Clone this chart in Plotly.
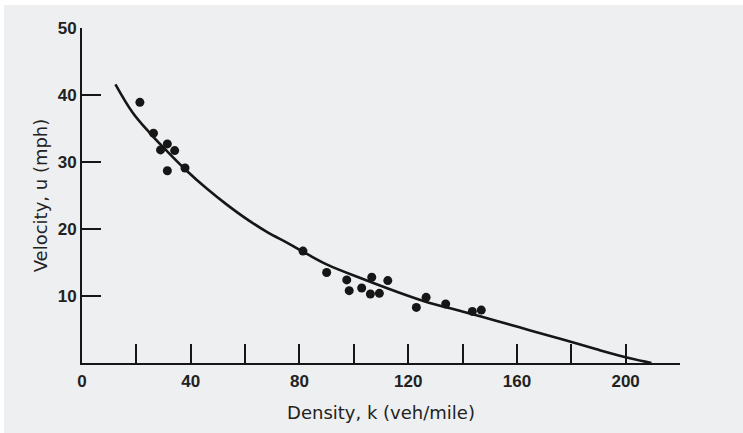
import plotly.graph_objects as go

# Observed data points (density k, veh/mile ; velocity u, mph)
density_pts = [21.3, 26.3, 28.9, 31.4, 34.1, 31.4, 37.9, 81.3, 90.0, 97.4, 98.3,
               102.9, 106.6, 106.1, 109.4, 112.5, 123.0, 126.6, 133.8, 143.6, 146.9]
velocity_pts = [38.9, 34.3, 31.8, 32.7, 31.7, 28.7, 29.1, 16.7, 13.5, 12.4, 10.8,
                11.2, 12.8, 10.3, 10.4, 12.3, 8.3, 9.8, 8.8, 7.7, 7.9]

# Fitted speed-density curve (traced)
curve_k = [12.3, 18.6, 24.8, 31.1, 38.5, 46.0, 53.4, 60.9, 68.3, 75.7, 83.1,
           90.6, 102.9, 115.3, 127.6, 139.9, 152.3, 164.6, 176.9, 189.3, 201.6, 209.5]
curve_u = [41.6, 37.4, 34.4, 31.7, 28.7, 26.0, 23.6, 21.4, 19.5, 17.9, 16.2,
           14.6, 12.6, 10.7, 9.0, 7.7, 6.3, 4.9, 3.5, 2.05, 0.7, 0.0]

x_tickvals = [0, 20, 40, 60, 80, 100, 120, 140, 160, 180, 200, 220]
x_ticktext = ["0", "", "40", "", "80", "", "120", "", "160", "", "200", ""]
y_tickvals = [10, 20, 30, 40, 50]
y_ticktext = ["10", "20", "30", "40", "50"]

INK = "#161616"
FONT = "Liberation Sans, Arial, sans-serif"
TFONT = "DejaVu Sans, Liberation Sans, sans-serif"

fig = go.Figure()
fig.add_trace(go.Scatter(x=curve_k, y=curve_u, mode="lines",
                         line=dict(color=INK, width=2.6, shape="spline", smoothing=1.0),
                         hoverinfo="skip", showlegend=False))
fig.add_trace(go.Scatter(x=density_pts, y=velocity_pts, mode="markers",
                         marker=dict(color=INK, size=9), showlegend=False))

L, R, T, B = 82, 63, 28, 70
W, H = 743, 433
pw, ph = W - L - R, H - T - B

def px_x(p):
    return (p - L) / pw

def px_y(p):
    return (H - B - p) / ph

# page: light grey scan with thin white margins at top and left
shapes = [
    dict(type="rect", xref="paper", yref="paper", layer="below",
         x0=px_x(0), x1=px_x(W), y0=px_y(0), y1=px_y(5),
         fillcolor="white", line=dict(width=0)),
    dict(type="rect", xref="paper", yref="paper", layer="below",
         x0=px_x(0), x1=px_x(4), y0=px_y(H), y1=px_y(0),
         fillcolor="white", line=dict(width=0)),
]

fig.update_layout(
    width=W, height=H,
    margin=dict(l=L, r=R, t=T, b=B, pad=0),
    paper_bgcolor="#eeeff0",
    plot_bgcolor="rgba(0,0,0,0)",
    shapes=shapes,
    font=dict(family=FONT, color=INK),
    xaxis=dict(
        range=[0, 220], showgrid=False, zeroline=False, automargin=False,
        showline=True, linecolor=INK, linewidth=2,
        ticks="inside", ticklen=19, tickwidth=2, tickcolor=INK,
        tickmode="array", tickvals=x_tickvals, ticktext=x_ticktext,
        tickfont=dict(size=17, family=FONT, weight="bold", color="#222"),
        ticklabelstandoff=2,
        title=dict(text="Density, k (veh/mile)", standoff=16,
                   font=dict(size=18, family=TFONT, color="#222")),
    ),
    yaxis=dict(
        range=[0, 50], showgrid=False, zeroline=False, automargin=False,
        showline=True, linecolor=INK, linewidth=2,
        ticks="inside", ticklen=19, tickwidth=2, tickcolor=INK,
        tickmode="array", tickvals=y_tickvals, ticktext=y_ticktext,
        tickfont=dict(size=17, family=FONT, weight="bold", color="#222"),
        ticklabelstandoff=0,
        title=dict(text="Velocity, u (mph)", standoff=5,
                   font=dict(size=18, family=TFONT, color="#222")),
    ),
)

fig.write_html("out.html",
               config={"displayModeBar": False},
               post_script="document.body.style.margin='0';document.body.style.overflow='hidden';")
